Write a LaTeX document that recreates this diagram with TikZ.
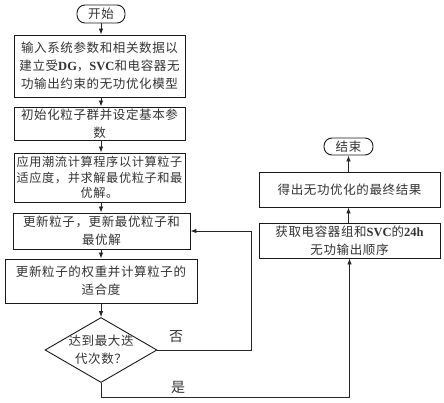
\documentclass[tikz,border=0pt]{standalone}
\usepackage{fontspec}
\setmainfont{Liberation Serif}
\newfontfamily\cjk[LetterSpace=5]{Noto Sans CJK SC}
\usetikzlibrary{shapes.geometric,arrows.meta}
\newcommand{\en}[1]{{\rmfamily\bfseries #1}}

\begin{document}
\begin{tikzpicture}[x=1pt,y=-1pt,line width=0.8pt,
    txt/.style={align=center,inner sep=1pt,text=black!80,font=\cjk\fontsize{12.5}{18}\selectfont},
    box/.style={txt,draw=black!90,line width=0.9pt},
    term/.style={box,rounded corners=8pt},
    arr/.style={-{Latex[length=6pt,width=4.5pt]},draw=black!85}]
    \useasboundingbox (0,0) rectangle (444,403);
    % left column
    \node[term,minimum width=48pt,minimum height=18pt] (start) at (101,14) {开始};
    \node[box,minimum width=171pt,minimum height=62pt] (input) at (99.5,66) {输入系统参数和相关数据以\\建立受\en{DG}，\en{SVC}和电容器无\\功输出约束的无功优化模型};
    \node[box,minimum width=171pt,minimum height=33pt] (init) at (99.5,123.5) {初始化粒子群并设定基本参\\数};
    \node[box,minimum width=171pt,minimum height=49pt,font=\cjk\fontsize{12.2}{15.5}\selectfont] (flow) at (99.5,177.5) {应用潮流计算程序以计算粒子\\适应度，并求解最优粒子和最\\优解。};
    \node[box,minimum width=177pt,minimum height=36pt] (update) at (101.5,231) {更新粒子，更新最优粒子和\\最优解};
    \node[box,minimum width=192pt,minimum height=44pt] (weight) at (101,281) {更新粒子的权重并计算粒子的\\适合度};
    \node[draw=black!90,line width=0.9pt,diamond,minimum width=112pt,minimum height=65pt,inner sep=0pt] (check) at (101,350) {};
    \node[txt] (checktxt) at (check) {达到最大迭\\代次数？};
    % right column
    \node[term,minimum width=49pt,minimum height=17pt] (end) at (348.5,146.5) {结束};
    \node[box,minimum width=181pt,minimum height=35pt] (final) at (349.5,189.5) {得出无功优化的最终结果};
    \node[box,minimum width=181pt,minimum height=35pt] (result) at (349.5,240.5) {获取电容器组和\en{SVC}的\en{24h}\\无功输出顺序};
    % flow
    \draw[arr] (start) -- (start |- input.north);
    \draw[arr] (input.south -| start) -- (start |- init.north);
    \draw[arr] (init.south -| start) -- (start |- flow.north);
    \draw[arr] (flow.south -| start) -- (start |- update.north);
    \draw[arr] (update.south -| start) -- (start |- weight.north);
    \draw[arr] (weight.south -| start) -- (check.north);
    \draw[arr] (check.east) -- ++(94,0) |- (update.east);
    \draw[arr] (check.south) -- ++(0,14) -| (result.south);
    \draw[arr] (result.north -| end) -- (final.south -| end);
    \draw[arr] (final.north -| end) -- (end.south);
    \node[txt,font=\cjk\fontsize{14}{16}\selectfont] (no) at (176,337) {否};
    \node[txt,font=\cjk\fontsize{14}{16}\selectfont] (yes) at (178,387) {是};
\end{tikzpicture}
\end{document}
